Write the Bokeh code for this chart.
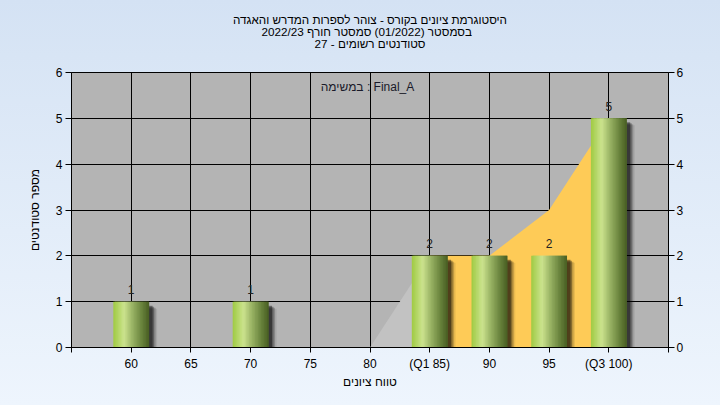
import numpy as np
from bokeh.plotting import figure
from bokeh.layouts import column
from bokeh.models import LinearAxis, FixedTicker, Label, ColumnDataSource, Range1d
from bokeh.core.properties import value
from bokeh.embed import file_html
from bokeh.resources import INLINE

# ---------------- data ----------------
grades = [60, 65, 70, 75, 80, 85, 90, 95, 100]
counts = [1, 0, 1, 0, 0, 2, 2, 2, 5]
tick_values = [55, 60, 65, 70, 75, 80, 85, 90, 95, 100, 105]
tick_labels = ["", "60", "65", "70", "75", "80", "(Q1 85)", "90", "95", "(Q3 100)", ""]
area_x = [80, 85, 90, 95, 100]
area_y = [0, 2, 2, 3, 5]
q1, q3 = 85, 100
title_lines = [
    "היסטוגרמת ציונים בקורס - צוהר לספרות המדרש והאגדה",
    "בסמסטר  (01/2022)  סמסטר חורף 2022/23",
    "סטודנטים רשומים - 27",
]
task_text = "במשימה : Final_A"
x_title = "טווח ציונים"
y_title = "מספר סטודנטים"

# ---------------- layout ----------------
W, H_TOTAL = 720, 405
HH = 56                      # header (titles) height
H = H_TOTAL - HH
FL, FT, FW, FH = 71, 72 - HH, 597, 275
XR = (55, 105)
YR = (0, 6)
FONT = "Liberation Sans, DejaVu Sans, sans-serif"
BG_TOP, BG_MID, BG_BOT = "#d4e2f4", "#d8e5f5", "#eef5fd"

def dx(px):
    return XR[0] + (px - FL) / FW * (XR[1] - XR[0])

def dy(py_page):
    py = py_page - HH
    return YR[1] - (py - FT) / FH * (YR[1] - YR[0])

# ---------- header figure with the three title lines ----------
hdr = figure(width=W, height=HH, x_range=Range1d(0, W), y_range=Range1d(HH, 0),
             output_backend="svg", toolbar_location=None, x_axis_type=None,
             y_axis_type=None, min_border=0)
hdr.outline_line_color = None
hdr.grid.visible = False
hdr.background_fill_alpha = 0
hdr.border_fill_alpha = 0
hdr.styles = {"background": f"linear-gradient(to bottom, {BG_TOP} 0%, {BG_MID} 100%)"}
hdr.text(x=[360, 360, 360], y=[19, 31, 43], text=title_lines, text_align="center",
         text_baseline="middle", text_font=value(FONT), text_font_size="11.7px",
         text_color="black")

# ---------- main chart ----------
p = figure(width=W, height=H, x_range=XR, y_range=YR, output_backend="svg",
           toolbar_location=None, min_border_left=FL, min_border_top=FT,
           min_border_right=W - FL - FW, min_border_bottom=H - FT - FH)
p.border_fill_alpha = 0
p.styles = {"background": f"linear-gradient(to bottom, {BG_MID} 0%, {BG_BOT} 100%)"}
p.background_fill_color = "#b4b4b4"
p.outline_line_color = "black"
p.outline_line_width = 1

ticker_x = FixedTicker(ticks=tick_values)
ticker_y = FixedTicker(ticks=list(range(0, 7)))
overrides = {t: l for t, l in zip(tick_values, tick_labels)}

p.xaxis.ticker = ticker_x
p.xaxis.major_label_overrides = overrides
p.yaxis.ticker = ticker_y
p.xgrid.ticker = ticker_x
p.ygrid.ticker = ticker_y
for g in (p.xgrid, p.ygrid):
    g.grid_line_color = "black"
    g.grid_line_width = 1
    g.grid_line_alpha = 1

right_axis = LinearAxis(ticker=ticker_y)
p.add_layout(right_axis, "right")

for ax in p.axis:
    ax.axis_line_color = "black"
    ax.major_tick_line_color = "black"
    ax.minor_tick_line_color = None
    ax.major_tick_in = 0
    ax.major_tick_out = 6
    ax.major_label_text_font = FONT
    ax.major_label_text_font_size = "12px"
    ax.major_label_text_color = "black"
    ax.major_label_standoff = 2
    ax.axis_label_text_font = FONT
    ax.axis_label_text_font_size = "12px"
    ax.axis_label_text_font_style = "normal"
    ax.axis_label_text_color = "black"

p.yaxis[0].major_label_standoff = 3
p.xaxis.major_tick_out = 5
p.xaxis.major_label_standoff = 4
p.xaxis[0].axis_label = x_title
p.xaxis[0].axis_label_standoff = 1
p.yaxis[0].axis_label = y_title
p.yaxis[0].axis_label_standoff = 11

# ---------------- area (Q1..Q3 highlighted) ----------------
ax_arr = np.array(area_x, dtype=float)
ay_arr = np.array(area_y, dtype=float)
low = ax_arr <= q1
mid = (ax_arr >= q1) & (ax_arr <= q3)
p.varea(x=ax_arr[low], y1=0, y2=ay_arr[low], fill_color="#c2c2c2")
p.varea(x=ax_arr[mid], y1=0, y2=ay_arr[mid], fill_color="#fecb57")

# ---------------- bars ----------------
bw = 3.0
g = np.array(grades, dtype=float)
c = np.array(counts, dtype=float)
nz = c > 0
ux = (XR[1] - XR[0]) / FW
uy = (YR[1] - YR[0]) / FH

# soft drop shadow
for off, alpha in [((8, 7), 0.08), ((6.5, 6), 0.18), ((5, 5), 0.30), ((3.5, 4), 0.40)]:
    p.quad(left=g[nz] - bw / 2 + off[0] * ux, right=g[nz] + bw / 2 + off[0] * ux,
           top=c[nz] - off[1] * uy, bottom=0, fill_color="black", fill_alpha=alpha,
           line_color=None)

stops_pos = [0.0, 0.12, 0.3, 0.55, 0.8, 1.0]
stops_rgb = np.array([[160, 202, 66], [176, 212, 96], [204, 227, 142], [150, 176, 98],
                      [104, 130, 60], [72, 94, 34]], dtype=float)
N = 24
frac = (np.arange(N) + 0.5) / N
cols = []
for f in frac:
    rgb = [np.interp(f, stops_pos, stops_rgb[:, k]) for k in range(3)]
    cols.append("#%02x%02x%02x" % tuple(int(round(v)) for v in rgb))
sw = bw / N
left0 = g[nz][:, None] - bw / 2
strip_l = (left0 + np.arange(N)[None, :] * sw).ravel()
strip_r = np.minimum(left0 + (np.arange(N)[None, :] + 2.0) * sw,
                     g[nz][:, None] + bw / 2).ravel()
strip_top = np.repeat(c[nz], N)
strip_col = np.tile(cols, nz.sum())
src = ColumnDataSource(dict(l=strip_l, r=strip_r, top=strip_top, color=strip_col))
p.quad(left="l", right="r", top="top", bottom=0, fill_color="color",
       line_color=None, source=src)

# value labels
p.text(x=g[nz], y=c[nz], text=[str(int(v)) for v in c[nz]], text_align="center",
       text_baseline="middle", y_offset=-12, text_font=value(FONT),
       text_font_size="12px", text_color="#222222")

# ---------------- task label ----------------
p.add_layout(Label(x=dx(367), y=dy(86), text=task_text, text_align="center",
                   text_baseline="middle", text_font=FONT, text_font_size="12px",
                   text_color="#1a1a2a"))

layout = column(hdr, p, spacing=0)
open("out.html", "w").write(file_html(layout, INLINE))
